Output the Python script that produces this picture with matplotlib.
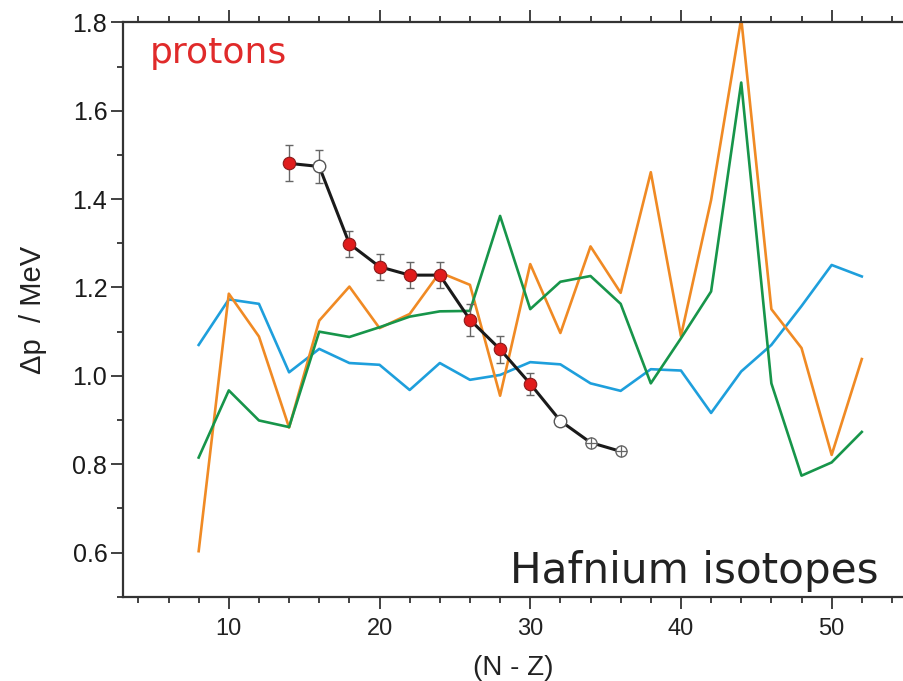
import matplotlib.pyplot as plt
from matplotlib.ticker import MultipleLocator

# theory curves, N-Z = 8..52
nz = list(range(8, 54, 2))
blue = [1.070, 1.173, 1.163, 1.008, 1.061, 1.029, 1.025, 0.968, 1.029, 0.991, 1.002, 1.031,
        1.026, 0.983, 0.966, 1.015, 1.012, 0.916, 1.010, 1.070, 1.158, 1.251, 1.225]
orange = [0.603, 1.186, 1.089, 0.883, 1.125, 1.202, 1.108, 1.140, 1.234, 1.206, 0.955, 1.253,
          1.097, 1.293, 1.188, 1.461, 1.090, 1.398, 1.809, 1.151, 1.063, 0.821, 1.038]
green = [0.815, 0.967, 0.899, 0.884, 1.100, 1.088, 1.110, 1.134, 1.146, 1.147, 1.362, 1.151,
         1.213, 1.226, 1.163, 0.983, 1.085, 1.191, 1.664, 0.983, 0.774, 0.804, 0.873]

# experimental gaps
exp_nz = [14, 16, 18, 20, 22, 24, 26, 28, 30, 32, 34, 36]
exp_val = [1.481, 1.474, 1.299, 1.247, 1.228, 1.228, 1.127, 1.060, 0.982, 0.898, 0.849, 0.829]
exp_err = [0.041, 0.038, 0.029, 0.029, 0.029, 0.029, 0.036, 0.030, 0.025, 0.0, 0.0, 0.0]
exp_kind = ['full', 'open', 'full', 'full', 'full', 'full', 'full', 'full', 'full', 'open', 'cross', 'cross']

plt.rcParams['font.family'] = ['Liberation Sans', 'DejaVu Sans']

fig = plt.figure(figsize=(9.04, 6.81), dpi=100)
ax = fig.add_axes([0.1364, 0.1238, 0.8636, 0.8432])

ax.plot(nz, blue, color='#1e9fdc', lw=1.9, zorder=2)
ax.plot(nz, orange, color='#f08a24', lw=1.9, zorder=2)
ax.plot(nz, green, color='#17954a', lw=1.9, zorder=2)

ax.errorbar(exp_nz, exp_val, yerr=exp_err, fmt='none', ecolor='#666666',
            elinewidth=1.0, capsize=3, capthick=1.0, zorder=3)
ax.plot(exp_nz, exp_val, color='#1a1a1a', lw=2.2, zorder=4)

for x, y, k in zip(exp_nz, exp_val, exp_kind):
    if k == 'full':
        ax.plot(x, y, 'o', ms=9, mfc='#e01c1c', mec='#8a1a1a', mew=0.8, zorder=5)
    elif k == 'open':
        ax.plot(x, y, 'o', ms=9, mfc='white', mec='#555555', mew=1.0, zorder=5)
    else:
        ax.plot(x, y, 'o', ms=8, mfc='white', mec='#666666', mew=1.0, zorder=5)
        ax.plot(x, y, '+', ms=8, mec='#666666', mew=0.9, zorder=6)

ax.set_xlim(3, 54.8)
ax.set_ylim(0.5, 1.8)

ax.xaxis.set_major_locator(MultipleLocator(10))
ax.xaxis.set_minor_locator(MultipleLocator(2))
ax.yaxis.set_major_locator(MultipleLocator(0.2))
ax.yaxis.set_minor_locator(MultipleLocator(0.1))
ax.yaxis.set_major_formatter(plt.FormatStrFormatter('%.1f'))

for s in ['left', 'bottom', 'top']:
    ax.spines[s].set_linewidth(1.6)
    ax.spines[s].set_color('#333333')
ax.spines['right'].set_visible(False)

ax.tick_params(which='both', direction='out', top=True, right=False, color='#333333', width=1.3)
ax.tick_params(which='major', length=8.5)
ax.tick_params(which='minor', length=4.3)
ax.tick_params(axis='x', labelsize=17, pad=7, labelcolor='#222222')
ax.tick_params(axis='y', labelsize=18, pad=3, labelcolor='#1a1a1a')

ax.set_xlabel('(N - Z)', fontsize=20, color='#222222', labelpad=11)
ax.set_ylabel('\u0394p  / MeV', fontsize=21, color='#222222', labelpad=18)

ax.text(0.034, 0.929, 'protons', transform=ax.transAxes, fontsize=26,
        color='#e02a2a', ha='left', va='baseline', family='DejaVu Sans')
ax.text(0.967, 0.023, 'Hafnium isotopes', transform=ax.transAxes, fontsize=30.3,
        color='#222222', ha='right', va='baseline', family='DejaVu Sans')

fig.savefig('out.png', dpi=100)
